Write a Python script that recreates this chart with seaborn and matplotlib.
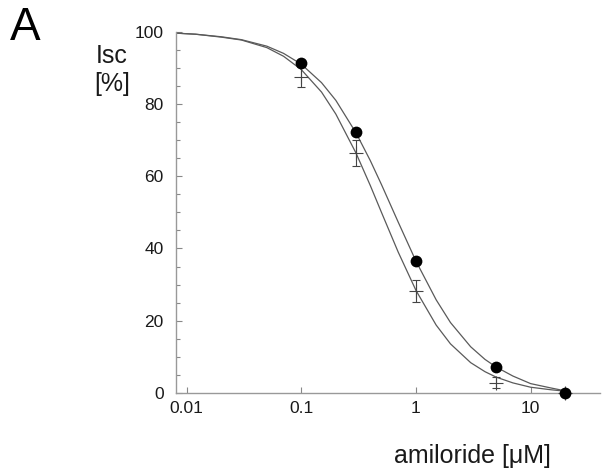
import numpy as np
import pandas as pd
import seaborn as sns
from matplotlib import pyplot as plt
from matplotlib.ticker import FixedLocator, MultipleLocator

# amiloride concentrations [uM] of the measured points
conc = [0.1, 0.3, 1, 5, 20]

# filled circles
isc_circles = [91.3, 72.2, 36.6, 7.3, 0.0]

# crosses with error bars
isc_crosses = [87.5, 66.4, 28.3, 2.9, 0.0]
err_crosses = [2.7, 3.6, 3.1, 1.5, 0.0]

# fitted curves
curve_x = [0.0081, 0.012, 0.02, 0.03, 0.05, 0.07, 0.1, 0.15, 0.2, 0.3, 0.4,
           0.5, 0.7, 1, 1.5, 2, 3, 4, 5, 7, 10, 15, 20]
curve_upper = [99.6, 99.3, 98.6, 97.8, 96.0, 94.0, 91.0, 85.9, 81.0, 72.0, 64.3,
               57.7, 47.3, 36.5, 25.8, 19.5, 12.8, 9.3, 7.2, 4.7, 2.6, 1.4, 0.6]
curve_lower = [99.6, 99.3, 98.5, 97.7, 95.6, 93.2, 89.5, 83.3, 77.2, 66.4, 57.4,
               50.0, 39.0, 28.4, 18.8, 13.6, 8.4, 5.9, 4.4, 2.8, 1.6, 0.9, 0.5]

sns.set_style('white')
plt.rcParams['font.family'] = ['Liberation Sans', 'DejaVu Sans']

fig = plt.figure(figsize=(6.02, 4.70), dpi=100)
ax = fig.add_axes([176 / 602, 1 - 393 / 470, 424 / 602, 361.3 / 470])

curves = pd.DataFrame({'x': curve_x * 2,
                       'y': curve_upper + curve_lower,
                       'fit': ['upper'] * len(curve_x) + ['lower'] * len(curve_x)})
sns.lineplot(ax=ax, data=curves, x='x', y='y', units='fit', estimator=None,
             color='#5a5a5a', linewidth=0.9, sort=False)

# crosses with error bars
ax.errorbar(conc, isc_crosses, yerr=err_crosses, fmt='none', ecolor='#444444',
            elinewidth=0.8, capsize=3, capthick=0.8, clip_on=False, zorder=3)
sns.scatterplot(ax=ax, x=conc, y=isc_crosses, marker='+', s=110, color='#444444',
                linewidth=0.8, clip_on=False, zorder=3)

# filled circles
sns.scatterplot(ax=ax, x=conc, y=isc_circles, marker='o', s=72, color='black',
                edgecolor='black', linewidth=0, clip_on=False, zorder=4)

ax.set_xscale('log')
ax.set_xlim(0.00807, 40.3)
ax.set_ylim(0, 100)

ax.xaxis.set_major_locator(FixedLocator([0.01, 0.1, 1, 10]))
ax.xaxis.set_minor_locator(FixedLocator([]))
ax.set_xticklabels(['0.01', '0.1', '1', '10'])
ax.yaxis.set_major_locator(MultipleLocator(20))
ax.yaxis.set_minor_locator(MultipleLocator(5))

ax.tick_params(axis='both', which='both', direction='in', color='#888888',
               bottom=True, left=True, labelsize=12.5, labelcolor='#1a1a1a')
ax.tick_params(axis='both', which='major', length=4.5, width=0.8)
ax.tick_params(axis='y', which='minor', length=2.8, width=0.8)
ax.tick_params(axis='x', which='major', pad=6)
ax.tick_params(axis='y', which='major', pad=9)

for side in ['top', 'right']:
    ax.spines[side].set_visible(False)
for side in ['left', 'bottom']:
    ax.spines[side].set_color('#999999')
    ax.spines[side].set_linewidth(1.0)

ax.set_xlabel('')
ax.set_ylabel('')

fig.text(112 / 602, 1 - 62.7 / 470, 'Isc', ha='center', va='baseline',
         fontsize=18, color='#1a1a1a')
fig.text(112 / 602, 1 - 84 / 470, '[%]', ha='center', va='center',
         fontsize=18, color='#1a1a1a')
fig.text(472 / 602, 1 - 456 / 470, 'amiloride [\u03bcM]', ha='center', va='center',
         fontsize=18, color='#1a1a1a')
fig.text(10 / 602, 1 - 40 / 470, 'A', ha='left', va='baseline',
         fontsize=33, color='black')

fig.savefig('out.png', dpi=100)
